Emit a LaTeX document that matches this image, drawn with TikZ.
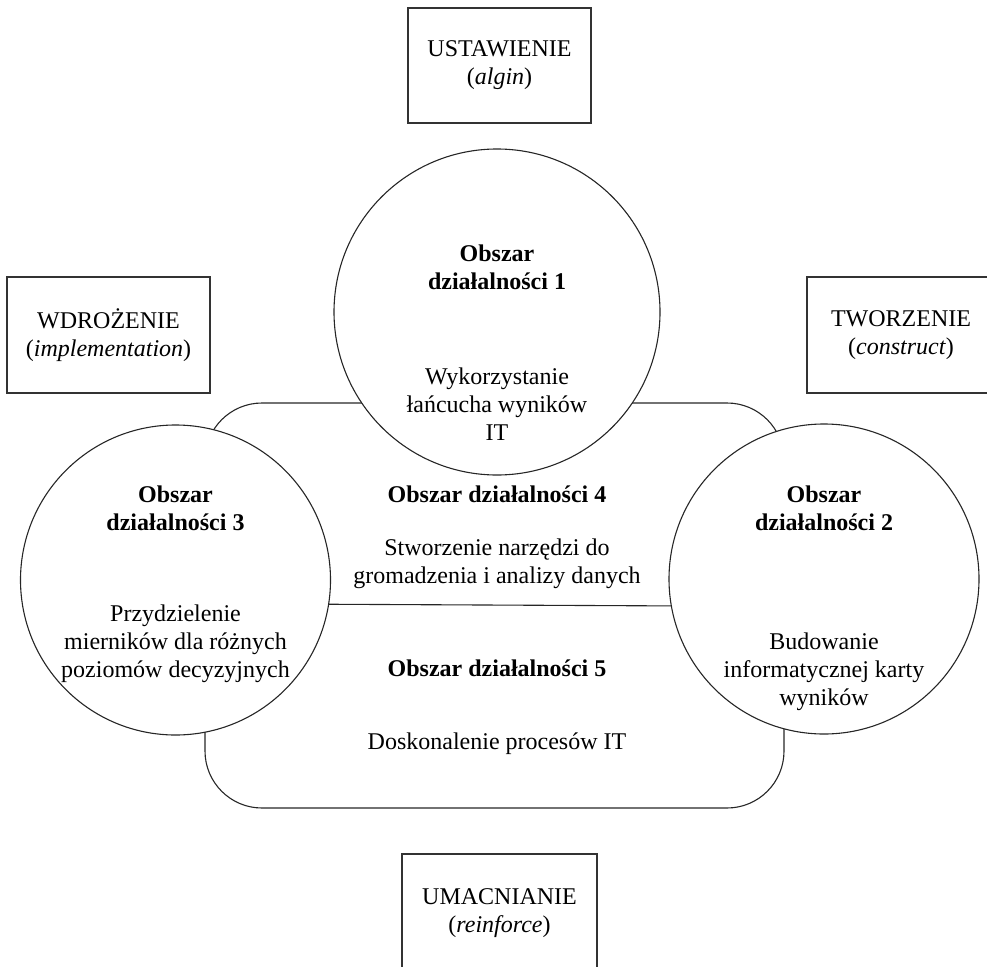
\documentclass[tikz,border=0pt]{standalone}
\usepackage{fontspec}
\setmainfont{Liberation Serif}
\begin{document}
\begin{tikzpicture}[x=1pt,y=-1pt,
  font=\fontsize{24}{28}\selectfont,
  every node/.style={inner sep=0pt, outer sep=0pt},
  box/.style={draw=black!80, line width=1.1pt, align=center},
  circ/.style={circle, draw=black!85, line width=1.1pt, fill=white},
  txt/.style={align=center},
  ttl/.style={align=center, font=\fontsize{24}{28}\selectfont\bfseries},
  line/.style={draw=black!85, line width=1.1pt}]
\useasboundingbox (0,0) rectangle (987,966);
% boxes
\node[box, minimum width=183pt, minimum height=115pt] (top) at (499.5,65.5) {USTAWIENIE\\(\textit{algin})};
\node[box, minimum width=203pt, minimum height=116pt] (left) at (108.5,335) {WDROŻENIE\\(\textit{implementation})};
\node[box, minimum width=188pt, minimum height=116pt] (right) at (901,335) {TWORZENIE\\(\textit{construct})};
\node[box, minimum width=195pt, minimum height=118pt] (bottom) at (499.5,913) {UMACNIANIE\\(\textit{reinforce})};
% central rounded area
\node[line, draw, rounded corners=57pt, minimum width=579pt, minimum height=405pt] (area) at (494.5,605.5) {};
% circles
\node[circ, minimum size=326pt] (c1) at (497,312) {};
\node[circ, minimum size=310pt] (c3) at (175.5,580) {};
\node[circ, minimum size=310pt] (c2) at (824,579) {};
\draw[line] (c3.-9.7) -- (c2.-170.3);
% circle texts
\node[ttl] (t1) at (497,267) {Obszar\\działalności 1};
\node[txt] (d1) at (497,404) {Wykorzystanie\\łańcucha wyników\\IT};
\node[ttl] (t3) at (175.5,508) {Obszar\\działalności 3};
\node[txt] (d3) at (175.5,644) {Przydzielenie\\mierników dla różnych\\poziomów decyzyjnych};
\node[ttl] (t2) at (824,508) {Obszar\\działalności 2};
\node[txt] (d2) at (824,672) {Budowanie\\informatycznej karty\\wyników};
% middle texts
\node[ttl] (t4) at (497,494) {Obszar działalności 4};
\node[txt] (d4) at (497,564) {Stworzenie narzędzi do\\gromadzenia i analizy danych};
\node[ttl] (t5) at (497,668) {Obszar działalności 5};
\node[txt] (d5) at (497,744) {Doskonalenie procesów IT};
\end{tikzpicture}
\end{document}
